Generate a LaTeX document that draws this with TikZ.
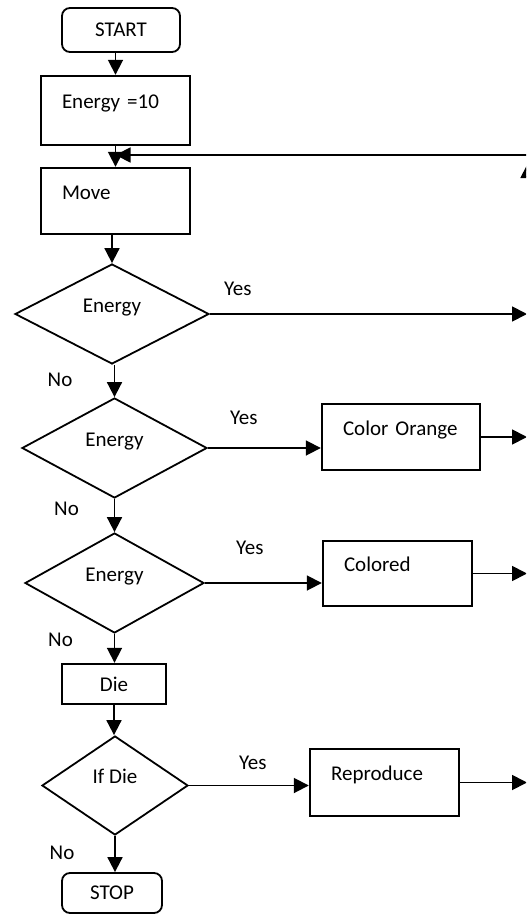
\documentclass[tikz,border=0pt]{standalone}
\usepackage{fontspec}
\setmainfont{Carlito}
\usetikzlibrary{arrows.meta}
\usetikzlibrary{positioning}
\usetikzlibrary{shapes.geometric}

\tikzset{
    block/.style={
        rectangle, draw=black, line width=1.2pt, inner sep=0pt,
    },
    terminal/.style={
        block, rounded corners=4pt, line width=0.9pt,
    },
    process/.style={
        block, align=left, inner xsep=10.5pt,
        text height=7pt, text depth=9pt,
    },
    decision/.style={
        diamond, draw=black, line width=0.9pt, inner sep=0pt,
        text height=7pt, text depth=9pt,
    },
    flow/.style={
        -{Triangle[length=7.5pt, width=7.5pt]}, line width=0.9pt,
    },
    answer/.style={inner sep=0pt},
}

\begin{document}
\begin{tikzpicture}[x=0.5pt, y=-0.5pt, font=\fontsize{10.5pt}{12pt}\selectfont]
    \useasboundingbox (0,0) rectangle (526,915);
    \clip (0,0) rectangle (526,915);

    % main column
    \node (start) at(121,30) [terminal, minimum width=59pt, minimum height=22pt] {START};
    \node (init) at(115.5,110.5) [
        process, text width=53.5pt, minimum height=34.5pt,
    ] {Energy =10};
    \node (move) at(115.5,201) [
        process, text width=53.5pt, minimum height=33pt,
    ] {Move};
    \node (d1) at(112,314) [decision, minimum width=97pt, minimum height=50pt] {Energy};
    \node (d2) at(114.5,448) [decision, minimum width=92.5pt, minimum height=50pt] {Energy};
    \node (d3) at(114.5,583) [decision, minimum width=89.5pt, minimum height=50pt] {Energy};
    \node (die) at(114,684) [block, minimum width=52pt, minimum height=20pt] {Die};
    \node (d4) at(115,785.5) [decision, minimum width=73pt, minimum height=49.5pt] {If Die};
    \node (stop) at(112,893) [terminal, minimum width=50pt, minimum height=20pt] {STOP};

    % right column
    \node (orange) at(401,437) [
        process, text width=58pt, minimum height=33pt,
    ] {Color Orange};
    \node (colored) at(397.5,573.5) [
        process, text width=53.5pt, minimum height=32.5pt,
    ] {Colored};
    \node (reproduce) at(384.5,782.5) [
        process, text width=53.5pt, minimum height=33.5pt,
    ] {Reproduce};

    % answers
    \node (yes1) at([shift={(28,-25)}]d1.east) [answer] {Yes};
    \node (no1) at([shift={(-52,15)}]d1.south) [answer] {No};
    \node (yes2) at([shift={(36,-30)}]d2.east) [answer] {Yes};
    \node (no2) at([shift={(-48,10)}]d2.south) [answer] {No};
    \node (yes3) at([shift={(45,-35)}]d3.east) [answer] {Yes};
    \node (no3) at([shift={(-54,6)}]d3.south) [answer] {No};
    \node (yes4) at([shift={(64,-23)}]d4.east) [answer] {Yes};
    \node (no4) at([shift={(-53,17)}]d4.south) [answer] {No};

    % flow down
    \draw[flow] (init.north |- start.south) -- (init.north);
    \draw[flow] (init.south) -- (move.north);
    \draw[flow] (d1.north |- move.south) -- (d1.north);
    \draw[flow] (d2.north |- d1.south) -- (d2.north);
    \draw[flow] (d2.south) -- (d3.north);
    \draw[flow] (d3.south) -- (d3.south |- die.north);
    \draw[flow] (die.south) -- (die.south |- d4.north);
    \draw[flow] (d4.south) -- (d4.south |- stop.north);

    % flow right
    \coordinate (rim) at(527,0);
    \draw[flow] (d1.east) -- (d1.east -| rim);
    \draw[flow] (d2.east) -- (d2.east -| orange.west);
    \draw[flow] (d3.east) -- (d3.east -| colored.west);
    \draw[flow] (d4.east) -- (d4.east -| reproduce.west);
    \draw[flow] (orange.east) -- (orange.east -| rim);
    \draw[flow] (colored.east) -- (colored.east -| rim);
    \draw[flow] (reproduce.east) -- (reproduce.east -| rim);

    % loop back
    \coordinate (back) at(527,155);
    \draw[flow] (back) -- (back -| init.south);
    \coordinate (upfoot) at(528,200);
    \coordinate (uptip) at(528,163);
    \draw[flow] (upfoot) -- (uptip);
\end{tikzpicture}
\end{document}
